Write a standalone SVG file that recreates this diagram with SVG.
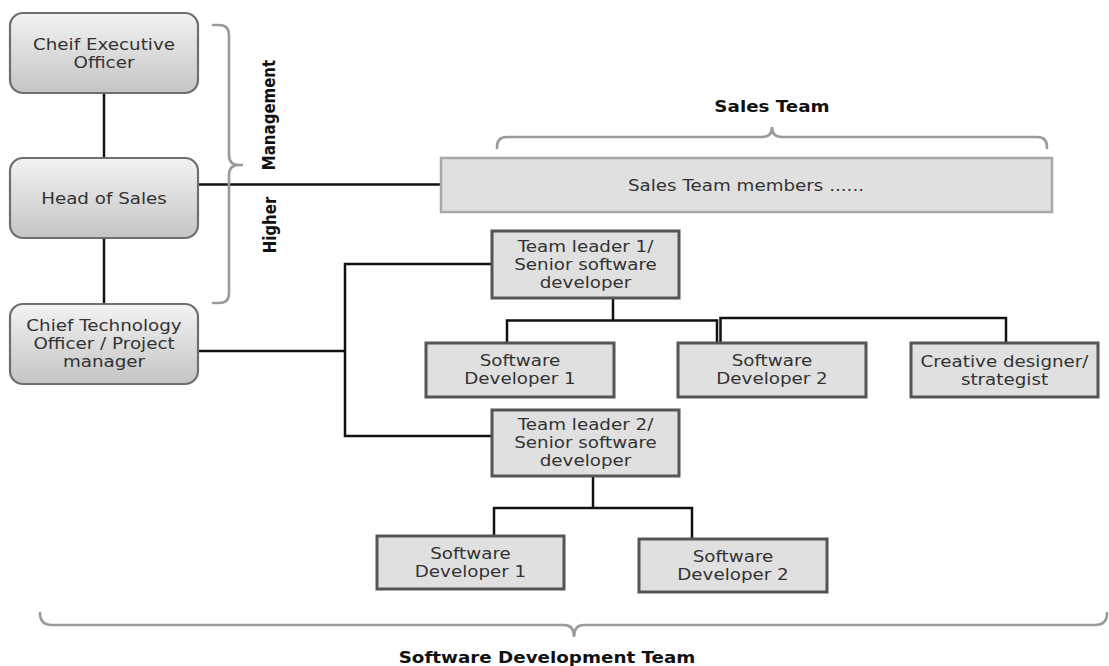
<svg xmlns="http://www.w3.org/2000/svg" width="1109" height="666" viewBox="0 0 1109 666">
  <defs>
    <linearGradient id="exec-fill" x1="0" y1="0" x2="0" y2="1">
      <stop offset="0" stop-color="#f3f3f3"/>
      <stop offset="1" stop-color="#c4c4c4"/>
    </linearGradient>
  </defs>
  <style>
    .exec { fill: url(#exec-fill); stroke: #6e6e6e; stroke-width: 2.2; }
    .box { fill: #e0e0e0; stroke: #555555; stroke-width: 3; }
    .sales { fill: #e0e0e0; stroke: #a8a8a8; stroke-width: 2.5; }
    .wire { fill: none; stroke: #111111; stroke-width: 2.5; }
    .brace { fill: none; stroke: #9a9a9a; stroke-width: 2.6; stroke-linecap: round; }
    .lbl { font-family: "DejaVu Sans", Verdana, sans-serif; font-size: 15px; fill: #333333; text-anchor: middle; }
    .head { font-family: "DejaVu Sans", Verdana, sans-serif; font-size: 15px; font-weight: bold; fill: #111111; text-anchor: middle; }
  </style>

  <!-- connectors -->
  <g id="connectors">
    <line class="wire" x1="104" y1="93" x2="104" y2="158"/>
    <line class="wire" x1="104" y1="238" x2="104" y2="304"/>
    <line class="wire" x1="198" y1="184.5" x2="441" y2="184.5"/>
    <line class="wire" x1="198" y1="351" x2="345" y2="351"/>
    <path class="wire" d="M492,264 H345 V436 H492"/>
    <path class="wire" d="M613,298 V320.5"/>
    <path class="wire" d="M507,343 V320.5 H717 V343"/>
    <path class="wire" d="M720.5,343 V318 H1006 V343"/>
    <path class="wire" d="M593,476 V508"/>
    <path class="wire" d="M494,536 V508 H692 V539"/>
  </g>

  <!-- brackets -->
  <g id="brackets">
    <path class="brace" d="M213,25 H219 Q229,25 229,35 V155 Q229,165 239,165 H243 H239 Q229,165 229,175 V293 Q229,303 219,303 H213"/>
    <path class="brace" d="M497,148 V147 Q497,137 507,137 H762 Q772,137 772,127 Q772,137 782,137 H1037 Q1047,137 1047,147 V148"/>
    <path class="brace" d="M40,613 Q40,625 52,625 H564 Q574,625 574,637 Q574,625 584,625 H1095 Q1107,625 1107,613"/>
  </g>

  <!-- group labels -->
  <g id="labels">
    <text class="head" transform="translate(274.5,115) scale(1.22,1) rotate(-90)">Management</text>
    <text class="head" transform="translate(275.5,225) scale(1.22,1) rotate(-90)">Higher</text>
    <text class="head" transform="translate(772,112) scale(1.22,1)">Sales Team</text>
    <text class="head" transform="translate(547,663) scale(1.22,1)">Software Development Team</text>
  </g>

  <g id="ceo">
    <rect class="exec" x="10" y="13" width="188" height="80" rx="13"/>
    <text class="lbl" transform="translate(104,0) scale(1.22,1)"><tspan x="0" y="50">Cheif Executive</tspan><tspan x="0" y="68">Officer</tspan></text>
  </g>

  <g id="head-of-sales">
    <rect class="exec" x="10" y="158" width="188" height="80" rx="13"/>
    <text class="lbl" transform="translate(104,0) scale(1.22,1)"><tspan x="0" y="204">Head of Sales</tspan></text>
  </g>

  <g id="cto">
    <rect class="exec" x="10" y="304" width="188" height="80" rx="13"/>
    <text class="lbl" transform="translate(104,0) scale(1.22,1)"><tspan x="0" y="331">Chief Technology</tspan><tspan x="0" y="349">Officer / Project</tspan><tspan x="0" y="367">manager</tspan></text>
  </g>

  <g id="sales-team">
    <rect class="sales" x="441" y="158" width="611" height="54"/>
    <text class="lbl" transform="translate(746,0) scale(1.22,1)"><tspan x="0" y="191">Sales Team members ......</tspan></text>
  </g>

  <g id="team-leader-1">
    <rect class="box" x="492" y="231" width="187" height="67"/>
    <text class="lbl" transform="translate(585.5,0) scale(1.22,1)"><tspan x="0" y="252">Team leader 1/</tspan><tspan x="0" y="270">Senior software</tspan><tspan x="0" y="288">developer</tspan></text>
  </g>

  <g id="developer-1a">
    <rect class="box" x="426" y="343" width="188" height="54"/>
    <text class="lbl" transform="translate(520,0) scale(1.22,1)"><tspan x="0" y="366">Software</tspan><tspan x="0" y="384">Developer 1</tspan></text>
  </g>

  <g id="developer-2a">
    <rect class="box" x="678" y="343" width="188" height="54"/>
    <text class="lbl" transform="translate(772,0) scale(1.22,1)"><tspan x="0" y="366">Software</tspan><tspan x="0" y="384">Developer 2</tspan></text>
  </g>

  <g id="creative-designer">
    <rect class="box" x="911" y="343" width="187" height="54"/>
    <text class="lbl" transform="translate(1004.5,0) scale(1.22,1)"><tspan x="0" y="367">Creative designer/</tspan><tspan x="0" y="385">strategist</tspan></text>
  </g>

  <g id="team-leader-2">
    <rect class="box" x="492" y="410" width="187" height="66"/>
    <text class="lbl" transform="translate(585.5,0) scale(1.22,1)"><tspan x="0" y="430">Team leader 2/</tspan><tspan x="0" y="448">Senior software</tspan><tspan x="0" y="466">developer</tspan></text>
  </g>

  <g id="developer-1b">
    <rect class="box" x="377" y="536" width="187" height="53"/>
    <text class="lbl" transform="translate(470.5,0) scale(1.22,1)"><tspan x="0" y="559">Software</tspan><tspan x="0" y="577">Developer 1</tspan></text>
  </g>

  <g id="developer-2b">
    <rect class="box" x="639" y="539" width="188" height="53"/>
    <text class="lbl" transform="translate(733,0) scale(1.22,1)"><tspan x="0" y="562">Software</tspan><tspan x="0" y="580">Developer 2</tspan></text>
  </g>
</svg>
